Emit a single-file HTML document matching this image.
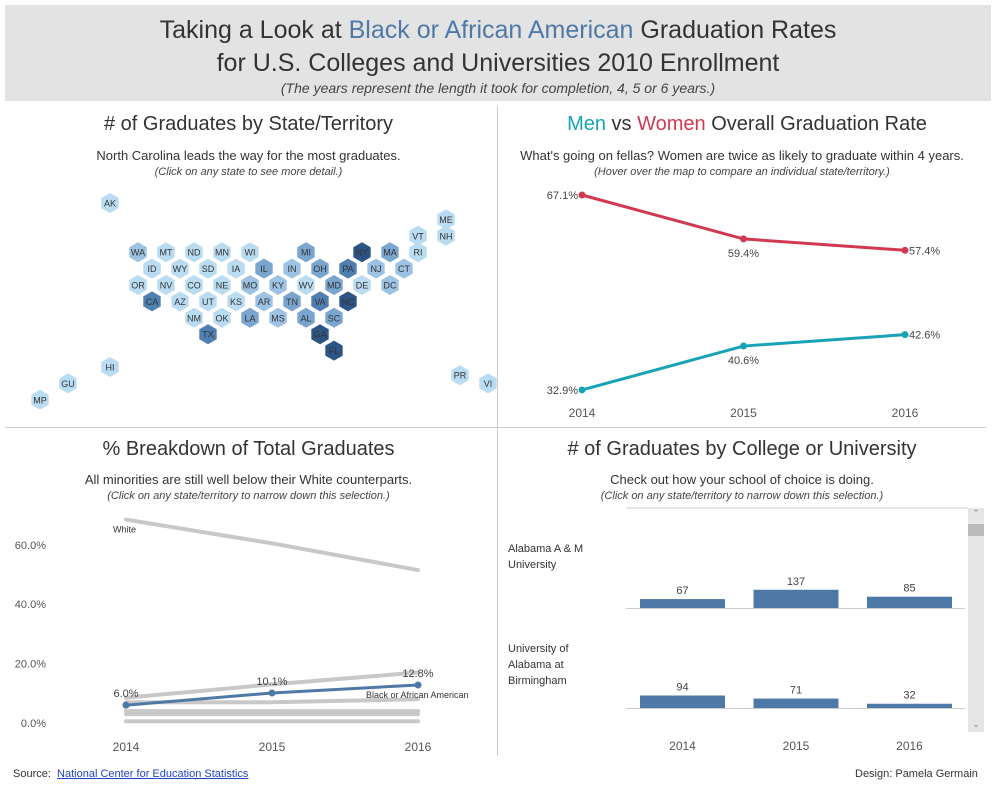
<!DOCTYPE html>
<html><head><meta charset="utf-8">
<style>
body{margin:0;width:996px;height:791px;background:#fff;font-family:"Liberation Sans",sans-serif;position:relative;overflow:hidden}
.abs{position:absolute}
.c{text-align:center}
</style></head><body>
<div class="abs" style="left:5px;top:5px;width:986px;height:96px;background:#e3e3e3"></div>
<div class="abs c" style="left:5px;top:14px;width:986px;font-size:25px;line-height:33px;color:#333">Taking a Look at <b style="color:#4e79a7;font-weight:normal">Black or African American</b> Graduation Rates<br>for U.S. Colleges and Universities 2010 Enrollment</div>
<div class="abs c" style="left:5px;top:80px;width:986px;font-size:14px;font-style:italic;color:#444">(The years represent the length it took for completion, 4, 5 or 6 years.)</div>
<div class="abs" style="left:497px;top:106px;width:1px;height:650px;background:#ccc"></div>
<div class="abs" style="left:5px;top:427px;width:981px;height:1px;background:#ccc"></div>

<div class="abs c" style="left:0;top:113px;width:497px;font-size:20px;color:#333">#&nbsp;of Graduates by State/Territory</div>
<div class="abs c" style="left:0;top:148px;width:497px;font-size:13px;color:#333">North Carolina leads the way for the most graduates.</div>
<div class="abs c" style="left:0;top:166px;width:497px;font-size:11px;font-style:italic;color:#444">(Click on any state to see more detail.)</div>
<svg class="abs" id="map" style="left:0;top:0" width="497" height="427"></svg>

<div class="abs c" style="left:498px;top:113px;width:498px;font-size:20px;color:#333"><span style="color:#17a3b5">Men</span> vs <span style="color:#d0394f">Women</span> Overall Graduation Rate</div>
<div class="abs c" style="left:498px;top:148px;width:488px;font-size:13px;color:#333">What's going on fellas? Women are twice as likely to graduate within 4 years.</div>
<div class="abs c" style="left:498px;top:166px;width:488px;font-size:11px;font-style:italic;color:#444">(Hover over the map to compare an individual state/territory.)</div>
<svg class="abs" id="gender" style="left:498px;top:180px" width="498" height="247"></svg>

<div class="abs c" style="left:0;top:438px;width:497px;font-size:20px;color:#333">% Breakdown of Total Graduates</div>
<div class="abs c" style="left:0;top:472px;width:497px;font-size:13px;color:#333">All minorities are still well below their White counterparts.</div>
<div class="abs c" style="left:0;top:490px;width:497px;font-size:11px;font-style:italic;color:#444">(Click on any state/territory to narrow down this selection.)</div>
<svg class="abs" id="race" style="left:0;top:505px" width="497" height="255"></svg>

<div class="abs c" style="left:498px;top:438px;width:488px;font-size:20px;color:#333">#&nbsp;of Graduates by College or University</div>
<div class="abs c" style="left:498px;top:472px;width:488px;font-size:13px;color:#333">Check out how your school of choice is doing.</div>
<div class="abs c" style="left:498px;top:490px;width:488px;font-size:11px;font-style:italic;color:#444">(Click on any state/territory to narrow down this selection.)</div>
<svg class="abs" id="bars" style="left:498px;top:505px" width="498" height="255"></svg>
<div class="abs" style="left:968px;top:508px;width:16px;height:224px;background:#e6e6e6"><div style="position:absolute;left:0;top:16px;width:16px;height:12px;background:#bbb"></div><div style="position:absolute;top:0;width:16px;text-align:center;font-size:9px;color:#888">&#8963;</div><div style="position:absolute;bottom:2px;width:16px;text-align:center;font-size:9px;color:#888">&#8964;</div></div>

<div class="abs" style="left:13px;top:768px;font-size:11px;color:#333">Source:&nbsp; <a style="color:#2244cc;text-decoration:underline">National Center for Education Statistics</a></div>
<div class="abs" style="left:855px;top:768px;font-size:11px;color:#333">Design: Pamela Germain</div>

<script>
const NS="http://www.w3.org/2000/svg";
function mk(p,t,a){const e=document.createElementNS(NS,t);for(const k in a)e.setAttribute(k,a[k]);p.appendChild(e);return e;}
// ---- hex map data ----
const states=["AK","ME","VT","NH","WA","MT","ND","MN","WI","MI","NY","MA","RI","ID","WY","SD","IA","IL","IN","OH","PA","NJ","CT","OR","NV","CO","NE","MO","KY","WV","MD","DE","DC","CA","AZ","UT","KS","AR","TN","VA","NC","NM","OK","LA","MS","AL","SC","TX","GA","FL","HI","GU","MP","PR","VI"];
const stateCol=[3,15,14,15,4,5,6,7,8,10,12,13,14,4.5,5.5,6.5,7.5,8.5,9.5,10.5,11.5,12.5,13.5,4,5,6,7,8,9,10,11,12,13,4.5,5.5,6.5,7.5,8.5,9.5,10.5,11.5,6,7,8,9,10,11,6.5,10.5,11,3,1.5,0.5,15.5,16.5];
const stateRow=[0,1,2,2,3,3,3,3,3,3,3,3,3,4,4,4,4,4,4,4,4,4,4,5,5,5,5,5,5,5,5,5,5,6,6,6,6,6,6,6,6,7,7,7,7,7,7,8,8,9,10,11,12,10.5,11];
const stateLevel=[0,0,0,0,1,0,0,0,0,2,4,2,0,0,0,0,0,2,1,2,3,1,1,0,0,0,0,1,1,0,2,0,1,3,0,0,0,1,2,3,4,0,0,2,1,2,2,3,4,4,0,0,0,0,0];
const levelColors=["#b9dcf2","#9cc3e3","#7aa5cf","#4f7fb0","#2c5585"];
const map=document.getElementById('map');
states.forEach((s,i)=>{
 const cx=40+stateCol[i]*28-14*0, cy=203+stateRow[i]*16.4;
 const x=26+stateCol[i]*28, y=cy;
 const r=10,w=8.7;
 const pts=[[x,y-r],[x+w,y-r/2],[x+w,y+r/2],[x,y+r],[x-w,y+r/2],[x-w,y-r/2]].map(p=>p.join(',')).join(' ');
 const h=mk(map,'polygon',{points:pts,fill:levelColors[stateLevel[i]]});
 
 
 const t=mk(map,'text',{x:x,y:y+3.5,'text-anchor':'middle','font-size':'9','fill':'#333','font-family':'Liberation Sans'});t.textContent=s;
 
 
});
// ---- gender chart ----
const years=["2014","2015","2016"];
const women=[67.1,59.4,57.4];
const men=[32.9,40.6,42.6];
const g=document.getElementById('gender');
const gx=i=>84+i*161.5, gy=v=>15+(67.1-v)*5.7;
[[women,"#d0394f","women"],[men,"#17a3b5","men"]].forEach(([d,c,n])=>{
 const l=mk(g,'polyline',{points:d.map((v,i)=>gx(i)+','+gy(v)).join(' '),fill:'none',stroke:c,'stroke-width':3});
 
 
 d.forEach((v,i)=>{
  const p=mk(g,'circle',{cx:gx(i),cy:gy(v),r:3.5,fill:c});
  
  
  let tx=gx(i),ty=gy(v)+18,an='middle';
  if(i==0){tx=gx(i)-4;ty=gy(v)+4;an='end';}
  if(i==2){tx=gx(i)+4;ty=gy(v)+4;an='start';}
  const t=mk(g,'text',{x:tx,y:ty,'text-anchor':an,'font-size':'11','fill':'#444','font-family':'Liberation Sans'});t.textContent=v.toFixed(1)+'%';
  
  
 });
});
years.forEach((y,i)=>{const t=mk(g,'text',{x:gx(i),y:237,'text-anchor':'middle','font-size':'12','fill':'#555','font-family':'Liberation Sans'});t.textContent=y;
 
 });
// ---- race chart ----
const raceTicks=[0,20,40,60];
const white=[68.5,60.5,51.5];
const black=[6.0,10.1,12.8];
const otherA=[8.5,13,17];
const otherB=[7,7,8];
const otherC=[4,4,4];
const otherD=[3,3,3];
const otherE=[0.6,0.6,0.6];
const r=document.getElementById('race');
const rx=i=>126+i*146, ry=v=>218-v*2.97;
raceTicks.forEach(v=>{const t=mk(r,'text',{x:46,y:ry(v)+4,'text-anchor':'end','font-size':'11','fill':'#555','font-family':'Liberation Sans'});t.textContent=v.toFixed(1)+'%';
 
 });
[white,otherA,otherB,otherC,otherD,otherE].forEach((d,k)=>{
 const l=mk(r,'polyline',{points:d.map((v,i)=>rx(i)+','+ry(v)).join(' '),fill:'none',stroke:'#c8c8c8','stroke-width':k==0?4:4,'stroke-linecap':'round'});
 
 
});
const wl=mk(r,'text',{x:113,y:ry(white[0])+13,'font-size':'9','fill':'#333','font-family':'Liberation Sans'});wl.textContent='White';


const bl=mk(r,'polyline',{points:black.map((v,i)=>rx(i)+','+ry(v)).join(' '),fill:'none',stroke:'#4e79a7','stroke-width':3});


black.forEach((v,i)=>{const p=mk(r,'circle',{cx:rx(i),cy:ry(v),r:3.5,fill:'#4e79a7'});
 
 
 const t=mk(r,'text',{x:rx(i),y:ry(v)-8,'text-anchor':'middle','font-size':'11','fill':'#444','font-family':'Liberation Sans'});t.textContent=v.toFixed(1)+'%';
 
 });
const bt=mk(r,'text',{x:366,y:ry(black[2])+13,'font-size':'9','fill':'#333','font-family':'Liberation Sans'});bt.textContent='Black or African American';


years.forEach((y,i)=>{const t=mk(r,'text',{x:rx(i),y:246,'text-anchor':'middle','font-size':'12','fill':'#555','font-family':'Liberation Sans'});t.textContent=y;
 
 });
// ---- bar chart ----
const colleges=["Alabama A & M|University","University of|Alabama at|Birmingham"];
const aamu=[67,137,85];
const uab=[94,71,32];
const b=document.getElementById('bars');
mk(b,'line',{x1:128,y1:3,x2:470,y2:3,stroke:'#ccc'});
const bx=i=>142+i*113.5, bs=0.133;
[aamu,uab].forEach((d,k)=>{
 const base=103+k*100;
 const lb=mk(b,'text',{x:10,y:base-56-k*0,'font-size':'11','fill':'#333','font-family':'Liberation Sans'});
 colleges[k].split('|').forEach((s,j)=>{const ts=mk(lb,'tspan',{x:10,dy:j?16:0});ts.textContent=s;});
 
 
 mk(b,'line',{x1:128,y1:base+0.5,x2:467,y2:base+0.5,stroke:'#ccc'});
 d.forEach((v,i)=>{const h=v*bs;
  const rc=mk(b,'rect',{x:bx(i),y:base-h,width:85,height:h,fill:'#4e79a7'});
  
  
  const t=mk(b,'text',{x:bx(i)+42.5,y:base-h-5,'text-anchor':'middle','font-size':'11','fill':'#444','font-family':'Liberation Sans'});t.textContent=v;
  
  
 });
});
years.forEach((y,i)=>{const t=mk(b,'text',{x:bx(i)+42.5,y:245,'text-anchor':'middle','font-size':'12','fill':'#555','font-family':'Liberation Sans'});t.textContent=y;
 
 });
</script>
</body></html>
